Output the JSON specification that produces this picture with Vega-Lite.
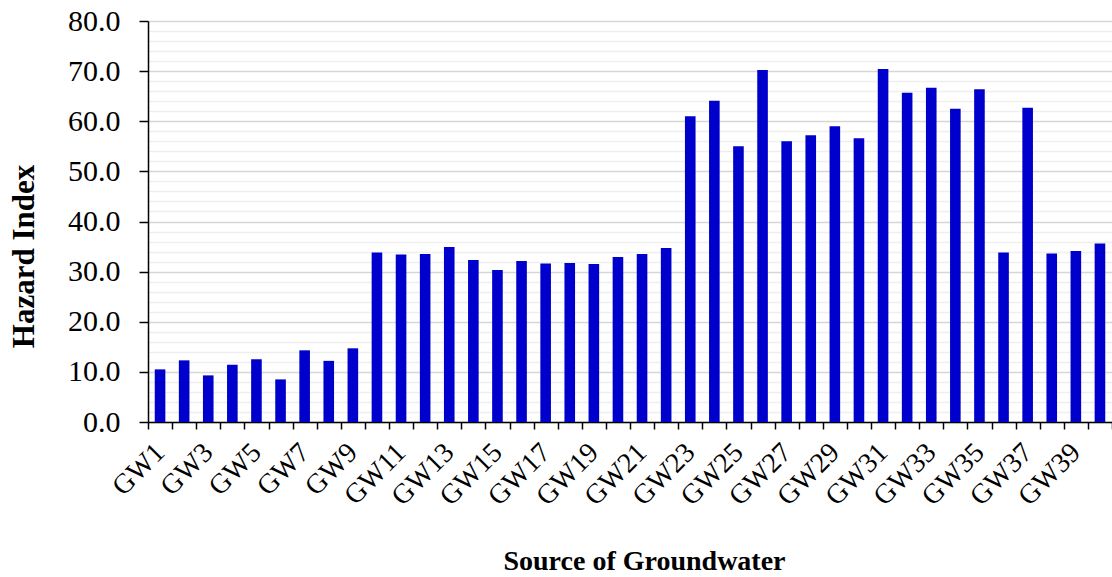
{
  "$schema": "https://vega.github.io/schema/vega-lite/v6.json",
  "autosize": {"type": "none"},
  "width": 964,
  "height": 401,
  "padding": {"left": 148, "top": 21, "right": 0, "bottom": 155},
  "background": "white",
  "config": {"view": {"stroke": null}, "font": "Liberation Serif"},
  "data": {"values": [
    {"source": "GW1", "hi": 10.5}, {"source": "GW2", "hi": 12.3}, {"source": "GW3", "hi": 9.3},
    {"source": "GW4", "hi": 11.4}, {"source": "GW5", "hi": 12.5}, {"source": "GW6", "hi": 8.5},
    {"source": "GW7", "hi": 14.3}, {"source": "GW8", "hi": 12.2}, {"source": "GW9", "hi": 14.7},
    {"source": "GW10", "hi": 33.8}, {"source": "GW11", "hi": 33.4}, {"source": "GW12", "hi": 33.5},
    {"source": "GW13", "hi": 34.9}, {"source": "GW14", "hi": 32.3}, {"source": "GW15", "hi": 30.3},
    {"source": "GW16", "hi": 32.1}, {"source": "GW17", "hi": 31.6}, {"source": "GW18", "hi": 31.7},
    {"source": "GW19", "hi": 31.5}, {"source": "GW20", "hi": 32.9}, {"source": "GW21", "hi": 33.5},
    {"source": "GW22", "hi": 34.7}, {"source": "GW23", "hi": 61.0}, {"source": "GW24", "hi": 64.1},
    {"source": "GW25", "hi": 55.0}, {"source": "GW26", "hi": 70.2}, {"source": "GW27", "hi": 56.0},
    {"source": "GW28", "hi": 57.2}, {"source": "GW29", "hi": 59.0}, {"source": "GW30", "hi": 56.6},
    {"source": "GW31", "hi": 70.4}, {"source": "GW32", "hi": 65.7}, {"source": "GW33", "hi": 66.7},
    {"source": "GW34", "hi": 62.5}, {"source": "GW35", "hi": 66.4}, {"source": "GW36", "hi": 33.8},
    {"source": "GW37", "hi": 62.7}, {"source": "GW38", "hi": 33.6}, {"source": "GW39", "hi": 34.1},
    {"source": "GW40", "hi": 35.6}
  ]},
  "mark": {"type": "bar", "color": "#0000CC", "width": {"band": 0.44}},
  "encoding": {
    "x": {
      "field": "source", "type": "nominal", "sort": null,
      "scale": {"paddingInner": 0, "paddingOuter": 0},
      "axis": {
        "title": "Source of Groundwater",
        "titleFont": "Liberation Serif", "titleFontSize": 28, "titleFontWeight": "bold", "titleColor": "black",
        "titleX": 496, "titleY": 139, "titleBaseline": "middle", "titleAlign": "center",
        "tickBand": "extent", "tickColor": "black", "tickSize": 7, "tickWidth": 1.5,
        "domainColor": "black", "domainWidth": 1.5,
        "labelExpr": "parseInt(slice(datum.label, 2)) % 2 == 1 ? datum.label : ''",
        "labelAngle": -45, "labelAlign": "right", "labelBaseline": "middle",
        "labelFont": "Liberation Serif", "labelFontSize": 28, "labelColor": "black",
        "labelPadding": 19, "labelOffset": 0, "labelOverlap": false, "labelBound": false,
        "grid": false
      }
    },
    "y": {
      "field": "hi", "type": "quantitative",
      "scale": {"domain": [0, 80], "nice": false},
      "axis": {
        "title": "Hazard Index",
        "titleFont": "Liberation Serif", "titleFontSize": 31, "titleFontWeight": "bold", "titleColor": "black",
        "titleAngle": -90, "titleX": -124, "titleY": 235, "titleBaseline": "middle", "titleAlign": "center",
        "values": [0,2,4,6,8,10,12,14,16,18,20,22,24,26,28,30,32,34,36,38,40,42,44,46,48,50,52,54,56,58,60,62,64,66,68,70,72,74,76,78,80],
        "labelExpr": "datum.value % 10 === 0 ? format(datum.value, '.1f') : ''",
        "labelFont": "Liberation Serif", "labelFontSize": 30, "labelColor": "black",
        "labelPadding": 19, "labelOverlap": false, "labelBound": false,
        "tickColor": "black", "tickSize": 9, "tickWidth": 1.5,
        "tickOpacity": {"condition": {"test": "datum.value % 10 !== 0", "value": 0}, "value": 1},
        "domainColor": "black", "domainWidth": 1.5,
        "grid": true,
        "gridColor": {"condition": {"test": "datum.value % 10 === 0", "value": "#d6d6d6"}, "value": "#efefef"},
        "gridWidth": 1.5
      }
    }
  }
}
